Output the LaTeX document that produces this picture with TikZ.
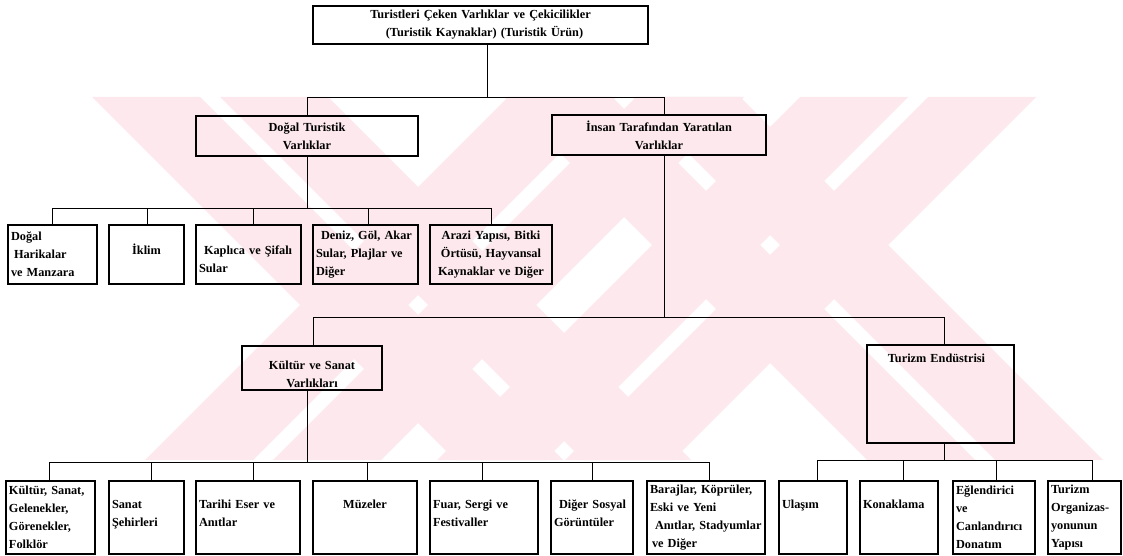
\documentclass[tikz,border=0pt]{standalone}
\usepackage{fontspec}
\setmainfont{Liberation Serif}
\definecolor{wm}{RGB}{253,233,237}
\tikzset{
  bx/.style={draw, line width=2pt, inner xsep=3pt, inner ysep=0pt,
    font=\fontsize{12.3}{18}\selectfont\bfseries},
  ln/.style={line width=1pt},
}
\newcommand\bxnode[7]{%
  \pgfmathsetmacro\mybw{#4-#2}%
  \pgfmathsetmacro\mybh{#5-#3}%
  \pgfmathsetmacro\mytw{#4-#2-6}%
  \pgfmathsetmacro\mycx{(#2+#4)/2}%
  \pgfmathsetmacro\mycy{(#3+#5)/2}%
  \node[bx, minimum width=\mybw pt, minimum height=\mybh pt,
        text width=\mytw pt, align=#6] (#1) at (\mycx,\mycy) {#7};}
\begin{document}
\begin{tikzpicture}[x=1pt,y=-1pt]
\useasboundingbox (0,0) rectangle (1123,556);
\fill[white] (0,0) rectangle (1123,556);
% watermark
\begin{scope}
  \clip (0,97) rectangle (1123,460);
  \foreach \a/\b in {-5/103,123/231,407/515,535/643}
    \fill[wm] (\a+97,97) -- (\b+97,97) -- (\b+460,460) -- (\a+460,460) -- cycle;
  \foreach \a/\b in {605/713,733/841,897/1005,1025/1133}
    \fill[wm] (\a-97,97) -- (\b-97,97) -- (\b-460,460) -- (\a-460,460) -- cycle;
\end{scope}
% level 0 and 1
\bxnode{T}{313}{6}{648}{44}{center}{Turistleri Çeken Varlıklar ve Çekicilikler\\\hspace{8pt}(Turistik Kaynaklar) (Turistik Ürün)}
\bxnode{D}{196}{116}{418}{156}{center}{Doğal Turistik\\Varlıklar}
\bxnode{I}{552}{115}{766}{155}{center}{İnsan Tarafından Yaratılan\\Varlıklar}
% row 1
\bxnode{Ra}{8}{225}{97}{284}{left}{Doğal\\\hspace{3pt}Harikalar\\ve Manzara}
\bxnode{Rb}{109}{225}{184}{284}{center}{\mbox{}\\İklim\\\mbox{}}
\bxnode{Rc}{196}{225}{301}{284}{left}{\mbox{}\\\hspace{5pt}Kaplıca ve Şifalı\\Sular}
\bxnode{Rd}{313}{225}{418}{284}{left}{\hspace{5pt}Deniz, Göl, Akar\\Sular, Plajlar ve\\Diğer}
\bxnode{Re}{430}{225}{552}{284}{center}{Arazi Yapısı, Bitki\\Örtüsü, Hayvansal\\Kaynaklar ve Diğer}
% level 2
\bxnode{K}{242}{346}{382}{390}{center}{\rule{0pt}{21pt}Kültür ve Sanat\\Varlıkları}
\bxnode{TE}{867}{345}{1014}{443}{center}{Turizm Endüstrisi\makebox[8pt]{}\\\mbox{}\\\mbox{}\\\mbox{}\\\mbox{}}
% bottom row
\bxnode{Ba}{6}{481}{95}{554}{left}{Kültür, Sanat,\\Gelenekler,\\Görenekler,\\Folklör}
\bxnode{Bb}{109}{481}{184}{554}{left}{\mbox{}\\Sanat\\Şehirleri\\\mbox{}}
\bxnode{Bc}{196}{481}{300}{554}{left}{\mbox{}\\Tarihi Eser ve\\Anıtlar\\\mbox{}}
\bxnode{Bd}{313}{481}{417}{554}{center}{\mbox{}\\Müzeler\\\mbox{}\\\mbox{}}
\bxnode{Be}{430}{481}{538}{554}{left}{\mbox{}\\Fuar, Sergi ve\\Festivaller\\\mbox{}}
\bxnode{Bf}{551}{481}{633}{554}{left}{\mbox{}\\\hspace{5pt}Diğer Sosyal\\Görüntüler\\\mbox{}}
\bxnode{Bg}{647}{481}{765}{554}{left}{Barajlar, Köprüler,\\Eski ve Yeni\\\hspace{5pt}Anıtlar, Stadyumlar\\\hspace{2pt}ve Diğer}
\bxnode{Bh}{779}{481}{847}{554}{left}{\mbox{}\\Ulaşım\\\mbox{}\\\mbox{}}
\bxnode{Bi}{860}{481}{938}{554}{left}{\mbox{}\\Konaklama\\\mbox{}\\\mbox{}}
\bxnode{Bj}{953}{481}{1035}{554}{left}{Eğlendirici\\ve\\Canlandırıcı\\Donatım}
\bxnode{Bk}{1048}{481}{1121}{554}{left}{Turizm\\Organizas-\\yonunun\\Yapısı}
% connectors level 0 -> 1
\coordinate (j0) at (487,98);
\coordinate (j0a) at (307,98);
\coordinate (j0b) at (664,98);
\draw[ln] (T.south -| j0) -- (j0);
\draw[ln] (j0a |- D.north) -- (j0a) -- (j0b) -- (j0b |- I.north);
% Dogal -> row 1
\coordinate (j1) at (307,208);
\draw[ln] (D.south -| j1) -- (j1);
\coordinate (t1) at (52,208);
\coordinate (t2) at (147,208);
\coordinate (t3) at (253,208);
\coordinate (t4) at (368,208);
\coordinate (t5) at (491,208);
\draw[ln] (t1) -- (t5);
\draw[ln] (t1) -- (t1 |- Ra.north);
\draw[ln] (t2) -- (t2 |- Rb.north);
\draw[ln] (t3) -- (t3 |- Rc.north);
\draw[ln] (t4) -- (t4 |- Rd.north);
\draw[ln] (t5) -- (t5 |- Re.north);
% Insan -> level 2
\coordinate (j2) at (664,317);
\coordinate (j2a) at (313,317);
\coordinate (j2b) at (944,317);
\draw[ln] (I.south -| j2) -- (j2);
\draw[ln] (j2a |- K.north) -- (j2a) -- (j2b) -- (j2b |- TE.north);
% Kultur -> bottom
\coordinate (j3) at (307,462);
\draw[ln] (K.south -| j3) -- (j3);
\coordinate (u1) at (49,462);
\coordinate (u2) at (151,462);
\coordinate (u3) at (253,462);
\coordinate (u4) at (367,462);
\coordinate (u5) at (482,462);
\coordinate (u6) at (592,462);
\coordinate (u7) at (709,462);
\draw[ln] (u1) -- (u7);
\draw[ln] (u1) -- (u1 |- Ba.north);
\draw[ln] (u2) -- (u2 |- Bb.north);
\draw[ln] (u3) -- (u3 |- Bc.north);
\draw[ln] (u4) -- (u4 |- Bd.north);
\draw[ln] (u5) -- (u5 |- Be.north);
\draw[ln] (u6) -- (u6 |- Bf.north);
\draw[ln] (u7) -- (u7 |- Bg.north);
% Turizm -> bottom
\coordinate (j4) at (944,460);
\draw[ln] (TE.south -| j4) -- (j4);
\coordinate (v1) at (817,460);
\coordinate (v2) at (903,460);
\coordinate (v3) at (996,460);
\coordinate (v4) at (1092,460);
\draw[ln] (v1) -- (v4);
\draw[ln] (v1) -- (v1 |- Bh.north);
\draw[ln] (v2) -- (v2 |- Bi.north);
\draw[ln] (v3) -- (v3 |- Bj.north);
\draw[ln] (v4) -- (v4 |- Bk.north);
\end{tikzpicture}
\end{document}
